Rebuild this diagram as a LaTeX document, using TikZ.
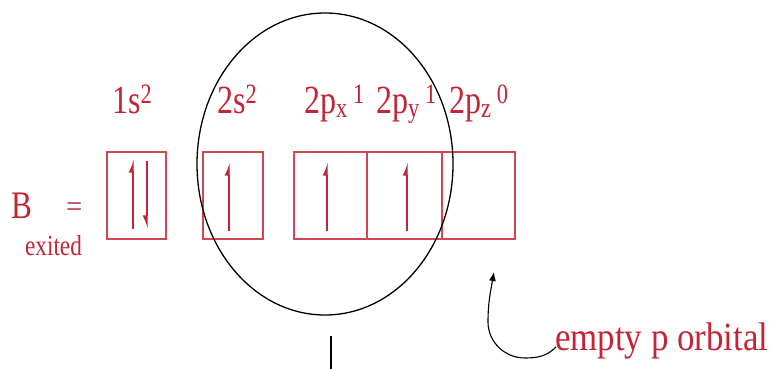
\documentclass[tikz,border=0pt]{standalone}
\usepackage{fontspec}
\setmainfont{Liberation Serif}
\usepackage{tikz}
\usetikzlibrary{positioning,arrows.meta,shapes.geometric}
\definecolor{orbred}{RGB}{196,36,54}
\definecolor{boxred}{RGB}{212,70,84}

\begin{document}
\begin{tikzpicture}[x=1pt, y=1pt,
  orb/.style={draw=boxred, line width=1.6pt, minimum height=87pt, inner sep=0pt},
  lbl/.style={text=orbred, font=\fontsize{40}{40}\selectfont, inner sep=0pt, anchor=base west, xscale=0.8, transform shape},
  spin/.style={draw=orbred, line width=1.3pt, -{Latex[left,length=11pt,width=9pt]}},
  spindown/.style={spin, -{Latex[right,length=11pt,width=9pt]}},
  arr/.style={-{Latex[length=9pt,width=7pt]}, line width=1.1pt}
]
\useasboundingbox (0,0) rectangle (778,368);

% orbital boxes
\node[orb, minimum width=59pt] (box1s) at (136.5,172.5) {};
\node[orb, minimum width=60pt] (box2s) at (233,172.5) {};
\node[orb, minimum width=73pt] (boxpx) at (330.5,172.5) {};
\node[orb, minimum width=75pt] (boxpy) at (404.5,172.5) {};
\node[orb, minimum width=73pt] (boxpz) at (478.5,172.5) {};

% labels over the boxes
\node[lbl] (l1s) at (112,255) {1s\textsuperscript{2}};
\node[lbl] (l2s) at (217,255) {2s\textsuperscript{2}};
\node[lbl] (lpx) at (304,255) {2p\textsubscript{x}\,\textsuperscript{1}};
\node[lbl] (lpy) at (376,255) {2p\textsubscript{y}\,\textsuperscript{1}};
\node[lbl] (lpz) at (449,255) {2p\textsubscript{z}\,\textsuperscript{0}};

\node[lbl, font=\fontsize{39}{39}\selectfont] (atom) at (11,150) {B};
\node[lbl, font=\fontsize{30}{30}\selectfont, xscale=1.2] (eq) at (66,152) {=};
\node[lbl, font=\fontsize{29}{29}\selectfont] (exc) at (25,113) {exited};

% electrons
\draw[spin] ([xshift=-3.5pt,yshift=11pt]box1s.south) -- ([xshift=-3.5pt,yshift=-8pt]box1s.north);
\draw[spindown] ([xshift=10.5pt,yshift=-10pt]box1s.north) -- ([xshift=10.5pt,yshift=11pt]box1s.south);
\draw[spin] ([xshift=-4pt,yshift=9pt]box2s.south) -- ([xshift=-4pt,yshift=-11pt]box2s.north);
\draw[spin] ([xshift=-3.5pt,yshift=9pt]boxpx.south) -- ([xshift=-3.5pt,yshift=-11pt]boxpx.north);
\draw[spin] ([xshift=2.5pt,yshift=9pt]boxpy.south) -- ([xshift=2.5pt,yshift=-11pt]boxpy.north);

% ring round the valence shell
\node[draw, ellipse, line width=1.3pt, minimum width=256pt, minimum height=302pt, inner sep=0pt] (ring) at (325,204) {};
\draw[line width=1.3pt] ([xshift=6pt,yshift=-20pt]ring.south) -- ++(0,-33);

\node[lbl, font=\fontsize{40}{40}\selectfont, xscale=1.09] (empty) at (555,18) {empty p orbital};
\coordinate (tip) at (494,96);
\draw[arr] ([xshift=1pt,yshift=3pt]empty.base west) to[out=-135, in=0] (525,10) to[out=180, in=-90] (488,46) to[out=90, in=-100] (tip);

\end{tikzpicture}
\end{document}
